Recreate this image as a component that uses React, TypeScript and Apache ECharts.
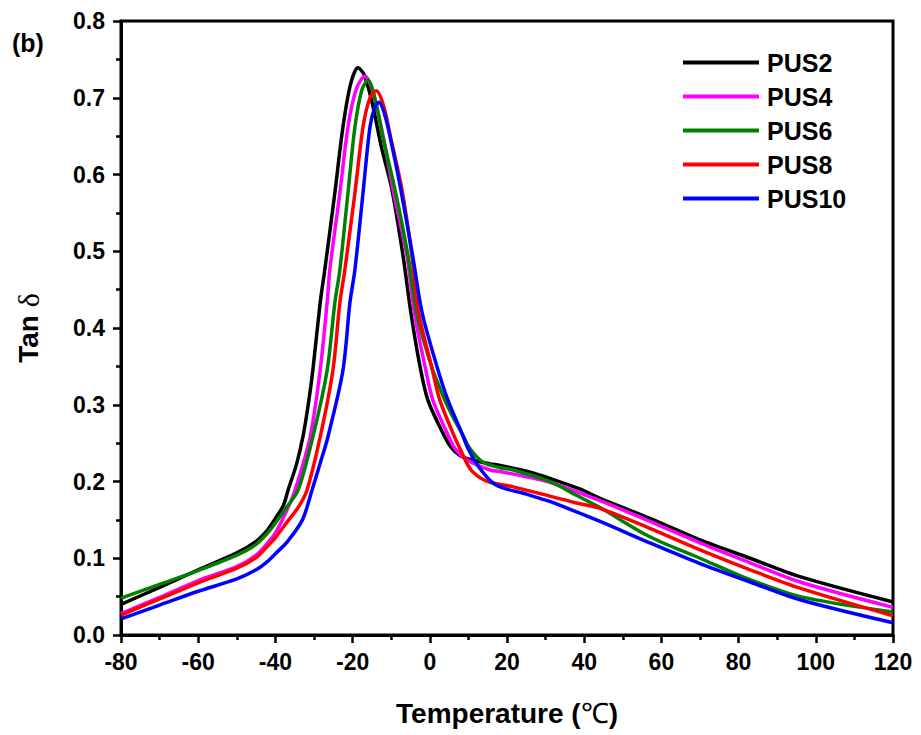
import React, { useEffect, useRef } from "react";
import * as echarts from "echarts";

const seriesNames = ["PUS2", "PUS4", "PUS6", "PUS8", "PUS10"];
const seriesColors = ["#000000", "#ff00ff", "#008000", "#ff0000", "#0000ff"];

const pus2: [number, number][] = [[-80,0.040],[-70,0.062],[-60,0.085],[-50,0.107],[-45,0.122],[-42,0.137],[-40,0.152],[-38,0.168],[-36.7,0.189],[-34.5,0.223],[-32.8,0.260],[-31.5,0.300],[-30.3,0.345],[-28.4,0.433],[-27.2,0.476],[-24.6,0.576],[-22.5,0.662],[-20.5,0.718],[-18.6,0.739],[-17,0.730],[-15,0.695],[-12.5,0.635],[-9.8,0.580],[-6.9,0.493],[-4.9,0.420],[-2.5,0.349],[-0.5,0.306],[3.4,0.263],[5.6,0.244],[7.8,0.234],[11,0.228],[15.6,0.223],[18.2,0.221],[26,0.212],[31.1,0.204],[39,0.190],[44.1,0.178],[57,0.152],[70,0.124],[83,0.100],[95.9,0.076],[120,0.043]];
const pus4: [number, number][] = [[-80,0.028],[-70,0.049],[-60,0.071],[-50,0.089],[-45,0.104],[-42,0.120],[-40,0.133],[-37,0.163],[-34.9,0.189],[-31.0,0.258],[-28.4,0.345],[-26.6,0.433],[-25.9,0.476],[-23.3,0.576],[-21.2,0.662],[-19,0.712],[-16.8,0.728],[-15,0.712],[-12.5,0.660],[-9.5,0.580],[-5.9,0.493],[-4.0,0.420],[-1.2,0.349],[0.8,0.306],[4.5,0.263],[6.5,0.243],[9.7,0.228],[15.6,0.215],[18.2,0.213],[26,0.205],[31.1,0.199],[44.1,0.175],[57,0.148],[70,0.120],[83,0.094],[95.9,0.069],[120,0.036]];
const pus6: [number, number][] = [[-80,0.048],[-70,0.066],[-60,0.084],[-50,0.104],[-45,0.118],[-42,0.133],[-40,0.146],[-37,0.167],[-34.1,0.189],[-30.3,0.258],[-26.6,0.345],[-24.6,0.433],[-23.3,0.476],[-21.2,0.576],[-19.4,0.662],[-17.6,0.710],[-16.0,0.723],[-14.5,0.705],[-12,0.645],[-9,0.580],[-5.6,0.493],[-3.4,0.420],[0.5,0.349],[3.9,0.306],[6,0.284],[8.3,0.263],[10.4,0.243],[13.8,0.225],[18.2,0.218],[21.6,0.215],[31.1,0.200],[38,0.182],[44.1,0.166],[57,0.128],[70,0.100],[83,0.072],[95.9,0.050],[120,0.030]];
const pus8: [number, number][] = [[-80,0.026],[-70,0.047],[-60,0.068],[-50,0.087],[-45,0.101],[-42,0.116],[-40,0.127],[-37,0.147],[-34,0.167],[-31.8,0.189],[-28.4,0.258],[-25.1,0.345],[-23.3,0.433],[-22.0,0.476],[-19.4,0.576],[-17.3,0.662],[-15.5,0.700],[-13.9,0.709],[-12,0.690],[-10,0.645],[-7.2,0.580],[-4.6,0.493],[-2.9,0.420],[0.5,0.349],[2.6,0.306],[6.0,0.263],[7.8,0.243],[10.4,0.217],[13,0.205],[15.6,0.199],[21.6,0.193],[31.1,0.181],[38,0.172],[44.1,0.165],[57,0.139],[70,0.111],[83,0.085],[95.9,0.061],[120,0.025]];
const pus10: [number, number][] = [[-80,0.021],[-70,0.039],[-60,0.057],[-50,0.073],[-45,0.085],[-42,0.096],[-40,0.106],[-37,0.121],[-33,0.150],[-30.5,0.189],[-28.5,0.222],[-26.4,0.258],[-22.5,0.345],[-20.7,0.433],[-19.4,0.476],[-17.3,0.576],[-15.5,0.662],[-14.2,0.688],[-13.2,0.694],[-11.5,0.675],[-9.5,0.630],[-7.5,0.580],[-4.4,0.493],[-2.0,0.420],[1.9,0.349],[4.7,0.306],[8.3,0.263],[9.9,0.243],[12.7,0.219],[16.4,0.198],[20,0.190],[24,0.185],[28.5,0.178],[31.1,0.174],[44.1,0.148],[57,0.120],[70,0.093],[83,0.069],[95.9,0.046],[120,0.016]];

const allData = [pus2, pus4, pus6, pus8, pus10];

const xMin = -80, xMax = 120, xInterval = 20;
const yMin = 0, yMax = 0.8, yInterval = 0.1;

const SANS = "'Liberation Sans', Arial, sans-serif";
const SERIF = "'Liberation Serif', 'Times New Roman', serif";

export default function App() {
  const ref = useRef<HTMLDivElement>(null);
  useEffect(() => {
    if (!ref.current) return;
    const chart = echarts.init(ref.current, null, { renderer: "svg" });
    chart.setOption({
      animation: false,
      backgroundColor: "#ffffff",
      grid: { left: 121, right: 28, top: 21, bottom: 100, show: true, borderColor: "#000", borderWidth: 3 },
      legend: {
        orient: "vertical",
        left: 683,
        top: 50,
        padding: 0,
        icon: "rect",
        itemWidth: 76,
        itemHeight: 4,
        itemGap: 9,
        data: seriesNames,
        textStyle: { fontFamily: SANS, fontWeight: "bold", fontSize: 25, color: "#000", padding: [0, 0, 0, 3], lineHeight: 25 },
      },
      xAxis: {
        type: "value",
        min: xMin,
        max: xMax,
        interval: xInterval,
        name: "{a|Temperature (}{b|℃}{a|)}",
        nameLocation: "middle",
        nameGap: 64,
        nameTextStyle: {
          rich: {
            a: { fontFamily: SANS, fontWeight: "bold", fontSize: 28, color: "#000" },
            b: { fontFamily: SERIF, fontSize: 28, color: "#000" },
          },
        },
        axisLine: { show: true, onZero: false, lineStyle: { color: "#000", width: 3 } },
        axisTick: { show: true, length: 8, lineStyle: { color: "#000", width: 2.5 } },
        minorTick: { show: true, splitNumber: 2, length: 5, lineStyle: { color: "#000", width: 2.5 } },
        splitLine: { show: false },
        minorSplitLine: { show: false },
        axisLabel: { margin: 15, fontFamily: SANS, fontWeight: "bold", fontSize: 23, color: "#000" },
      },
      yAxis: {
        type: "value",
        min: yMin,
        max: yMax,
        interval: yInterval,
        name: "{a|Tan }{b|δ}",
        nameLocation: "middle",
        nameGap: 78,
        nameRotate: 90,
        nameTextStyle: {
          rich: {
            a: { fontFamily: SANS, fontWeight: "bold", fontSize: 28, color: "#000" },
            b: { fontFamily: SERIF, fontSize: 30, color: "#000" },
          },
        },
        axisLine: { show: true, onZero: false, lineStyle: { color: "#000", width: 3 } },
        axisTick: { show: true, length: 8, lineStyle: { color: "#000", width: 2.5 } },
        minorTick: { show: true, splitNumber: 2, length: 5, lineStyle: { color: "#000", width: 2.5 } },
        splitLine: { show: false },
        minorSplitLine: { show: false },
        axisLabel: {
          margin: 16,
          fontFamily: SANS,
          fontWeight: "bold",
          fontSize: 23,
          color: "#000",
          formatter: (v: number) => v.toFixed(1),
        },
      },
      graphic: [
        {
          type: "text",
          left: 12,
          top: 30,
          style: { text: "(b)", fontFamily: SANS, fontWeight: "bold", fontSize: 25, fill: "#000" },
        },
      ],
      series: seriesNames.map((name, i) => ({
        name,
        type: "line",
        data: allData[i],
        smooth: 0.3,
        showSymbol: false,
        symbol: "none",
        color: seriesColors[i],
        lineStyle: { color: seriesColors[i], width: 3.5 },
      })),
    });
    return () => chart.dispose();
  }, []);
  return <div ref={ref} style={{ position: "fixed", left: 0, top: 0, width: 921, height: 735 }} />;
}
